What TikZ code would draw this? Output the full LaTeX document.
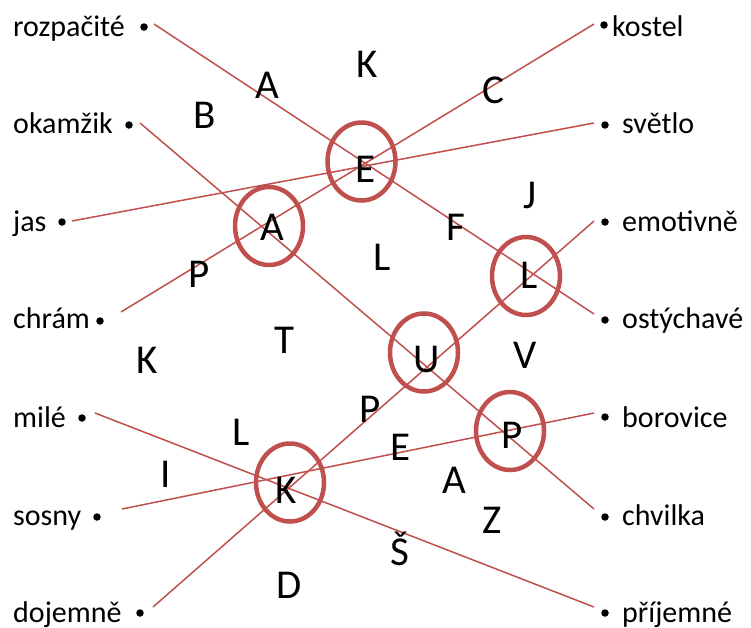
\documentclass[tikz,border=0pt]{standalone}
\usepackage{fontspec}
\setmainfont{Carlito}
\usetikzlibrary{shapes.geometric}
\definecolor{redline}{RGB}{192,80,77}
\begin{document}
\begin{tikzpicture}[x=1pt,y=-1pt,
  word/.style={inner sep=0pt, anchor=base west, font=\fontsize{30}{36}\selectfont},
  letter/.style={inner sep=0pt, anchor=base, font=\fontsize{41}{48}\selectfont},
  bul/.style={circle, fill=black, inner sep=0pt, minimum size=7.5pt},
  conn/.style={draw=redline, line width=1.5pt},
  ring/.style={ellipse, draw=redline, line width=4.5pt, inner sep=0pt, minimum width=68pt, minimum height=78pt}]
\useasboundingbox[fill=white] (0,0) rectangle (751,627);

% left words
\node[word] (w1) at (13,36) {rozpačité};
\node[word] (w2) at (13,133) {okamžik};
\node[word] (w3) at (13,231) {jas};
\node[word] (w4) at (13,328) {chrám};
\node[word] (w5) at (13,427) {milé};
\node[word] (w6) at (13,525) {sosny};
\node[word] (w7) at (13,622) {dojemně};
% left bullets
\node[bul] (b1) at (144,27) {};
\node[bul] (b2) at (129,125) {};
\node[bul] (b3) at (62,222) {};
\node[bul] (b4) at (100,321) {};
\node[bul] (b5) at (82,418) {};
\node[bul] (b6) at (97,517) {};
\node[bul] (b7) at (140,613) {};
% right words
\node[word] (v1) at (612,36) {kostel};
\node[word] (v2) at (622,133) {světlo};
\node[word] (v3) at (622,231) {emotivně};
\node[word] (v4) at (622,328) {ostýchavé};
\node[word] (v5) at (622,427) {borovice};
\node[word] (v6) at (622,525) {chvilka};
\node[word] (v7) at (622,622) {příjemné};
% right bullets
\node[bul] (c1) at (604,25) {};
\node[bul] (c2) at (605,125) {};
\node[bul] (c3) at (605,222) {};
\node[bul] (c4) at (605,320) {};
\node[bul] (c5) at (605,417) {};
\node[bul] (c6) at (605,517) {};
\node[bul] (c7) at (605,613) {};

% line end points
\coordinate (s1) at (154,24);
\coordinate (s2) at (140,123);
\coordinate (s3) at (72,221);
\coordinate (s4) at (121,312);
\coordinate (s5) at (95,413);
\coordinate (s6) at (122,509);
\coordinate (s7) at (153,607);
\coordinate (e1) at (594,24);
\coordinate (e2) at (594,123);
\coordinate (e3) at (594,221);
\coordinate (e4) at (594,314);
\coordinate (e5) at (594,413);
\coordinate (e6) at (594,509);
\coordinate (e7) at (594,607);

% connectors
\draw[conn] (s1) -- (e4);
\draw[conn] (s2) -- (e6);
\draw[conn] (s3) -- (e2);
\draw[conn] (s4) -- (e1);
\draw[conn] (s5) -- (e7);
\draw[conn] (s6) -- (e5);
\draw[conn] (s7) -- (e3);

% rings
\node[ring] (rE) at (361.5,161.5) {};
\node[ring] (rA) at (269,226) {};
\node[ring] (rL) at (526,276) {};
\node[ring] (rU) at (424,352.5) {};
\node[ring] (rP) at (510,431) {};
\node[ring] (rK) at (290,482.5) {};

% letters
\node[letter] (a1) at (267,98) {A};
\node[letter] (a2) at (367,77) {K};
\node[letter] (a3) at (493,103) {C};
\node[letter] (a4) at (205,128) {B};
\node[letter] (a5) at (366,182) {E};
\node[letter] (a6) at (530,208) {J};
\node[letter] (a7) at (456,240) {F};
\node[letter] (a8) at (272,240) {A};
\node[letter] (a9) at (382,270) {L};
\node[letter] (a10) at (199,287) {P};
\node[letter] (a11) at (529,288) {L};
\node[letter] (a12) at (284,353) {T};
\node[letter] (a13) at (147,373) {K};
\node[letter] (a14) at (427,372) {U};
\node[letter] (a15) at (525,368) {V};
\node[letter] (a16) at (370,422) {P};
\node[letter] (a17) at (241,445) {L};
\node[letter] (a18) at (401,460) {E};
\node[letter] (a19) at (166,487) {I};
\node[letter] (a20) at (286,503) {K};
\node[letter] (a21) at (512,448) {P};
\node[letter] (a22) at (454,493) {A};
\node[letter] (a23) at (492,533) {Z};
\node[letter] (a24) at (400,565) {Š};
\node[letter] (a25) at (289,598) {D};
\end{tikzpicture}
\end{document}
